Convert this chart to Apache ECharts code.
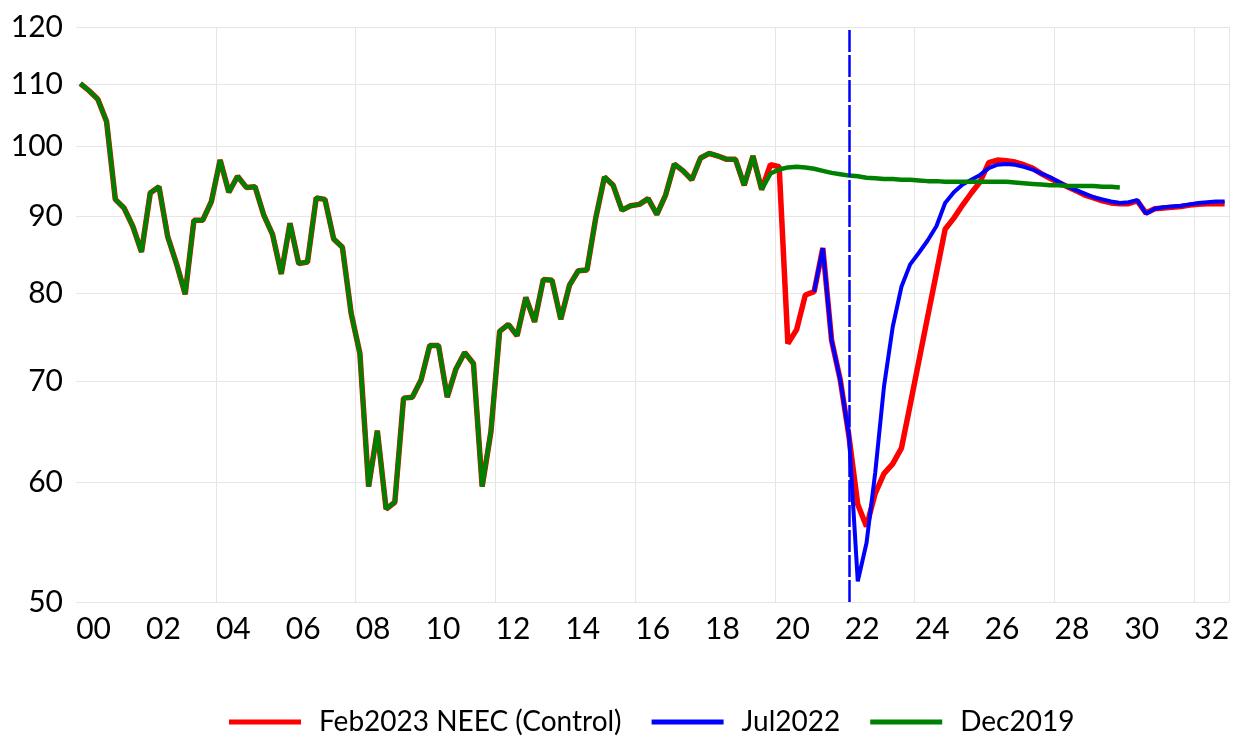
<!DOCTYPE html>
<html>
<head>
<meta charset="utf-8">
<title>NEEC scenarios</title>
<script src="https://cdn.jsdelivr.net/npm/echarts@6.0.0/dist/echarts.min.js"></script>
<style>
  html, body { margin: 0; padding: 0; background: #fff; }
  #chart { width: 1238px; height: 740px; }
</style>
</head>
<body>
<div id="chart"></div>
<script>
// quarterly, 2000Q1 .. 2032Q4
const quarters = [];
for (let y = 2000; y <= 2032; y++) {
  for (let q = 1; q <= 4; q++) quarters.push(String(y).slice(2) + 'Q' + q);
}
const yearLabels = ['00', '02', '04', '06', '08', '10', '12', '14', '16', '18', '20', '22', '24', '26', '28', '30', '32'];
const yTicks = [50, 60, 70, 80, 90, 100, 110, 120];

// common history 2000Q1 - 2019Q3
const history = [
  110.1, 108.9, 107.5, 103.9, 92.3, 91.1, 88.6, 85.2, 93.2, 94.1,
  87.2, 83.7, 79.9, 89.4, 89.4, 92.0, 98.0, 93.3, 95.6, 94.0,
  94.1, 90.1, 87.5, 82.4, 89.0, 83.7, 83.9, 92.5, 92.3, 86.9,
  85.8, 77.6, 73.0, 59.6, 64.9, 57.6, 58.2, 68.2, 68.3, 70.1,
  73.9, 73.9, 68.3, 71.3, 73.1, 71.9, 59.6, 64.8, 75.5, 76.3,
  75.0, 79.5, 76.6, 81.7, 81.6, 76.9, 81.0, 82.8, 82.9, 89.7,
  95.5, 94.3, 90.8, 91.4, 91.6, 92.4, 90.2, 92.9, 97.4, 96.4,
  95.1, 98.3, 99.0, 98.6, 98.1, 98.1, 94.3, 98.6, 93.7
];
// 2019Q4 - 2032Q4
const feb2023 = [
  97.3, 97.0, 74.1, 75.7, 79.8, 80.2, 85.7, 74.5, 70.1, 64.3,
  58.0, 56.1, 59.0, 60.8, 61.7, 63.2, 67.5, 72.2, 77.2, 82.5,
  88.2, 89.7, 91.5, 93.2, 94.8, 97.6, 98.0, 97.9, 97.7, 97.3,
  96.8, 96.0, 95.3, 94.7, 94.1, 93.5, 92.9, 92.5, 92.1, 91.8,
  91.7, 91.7, 92.1, 90.4, 91.0, 91.1, 91.2, 91.3, 91.5, 91.6,
  91.7, 91.7, 91.7
];
// 2021Q1 - 2032Q4
const jul2022 = [
  80.2, 85.7, 74.5, 70.1, 64.3, 51.6, 54.7, 60.9, 69.4, 76.0,
  80.8, 83.6, 85.1, 86.7, 88.6, 91.8, 93.3, 94.4, 95.1, 95.8,
  96.8, 97.3, 97.4, 97.3, 97.0, 96.6, 96.0, 95.5, 94.8, 94.1,
  93.6, 93.1, 92.6, 92.3, 92.0, 91.8, 91.9, 92.2, 90.3, 91.0,
  91.2, 91.3, 91.4, 91.6, 91.8, 91.9, 92.0, 92.0
];
// 2019Q4 - 2029Q4
const dec2019 = [
  96.0, 96.6, 96.9, 97.0, 96.9, 96.7, 96.4, 96.1, 95.9, 95.7,
  95.6, 95.4, 95.3, 95.2, 95.2, 95.1, 95.1, 95.0, 94.9, 94.9,
  94.8, 94.8, 94.8, 94.8, 94.8, 94.8, 94.8, 94.8, 94.7, 94.6,
  94.5, 94.4, 94.3, 94.3, 94.2, 94.2, 94.2, 94.2, 94.1, 94.1,
  94.0
];
const cutoff = '22Q1';

const redData = history.concat(feb2023);
const blueData = new Array(quarters.length - jul2022.length).fill(null).concat(jul2022);
const greenData = history.concat(dec2019);

const font = 'Lato, "Open Sans", sans-serif';
let myChart = echarts.init(document.getElementById('chart'));
myChart.setOption({
  animation: false,
  grid: { left: 76, right: 9, top: 27, bottom: 138, containLabel: false, outerBoundsMode: 'none' },
  legend: {
    left: 224,
    top: 703,
    icon: 'rect',
    itemWidth: 72,
    itemHeight: 5,
    itemGap: 30,
    textStyle: { fontFamily: font, fontSize: 28, color: '#000', padding: [0, 0, 0, 13] },
    data: ['Feb2023 NEEC (Control)', 'Jul2022', 'Dec2019']
  },
  xAxis: {
    type: 'category',
    data: quarters,
    boundaryGap: true,
    axisLine: { show: false },
    axisTick: { show: false },
    axisLabel: {
      interval: (i) => i % 8 === 1,
      formatter: (v, i) => yearLabels[(i - 1) / 8],
      fontFamily: font, fontSize: 30, color: '#000',
      margin: 12,
      padding: [0, 0, 0, 9]
    },
    splitLine: {
      show: true,
      interval: (i) => i > 0 && i % 16 === 0,
      lineStyle: { color: '#e6e6e6', width: 1 }
    }
  },
  yAxis: {
    type: 'log',
    logBase: 10,
    min: 50,
    max: 120,
    axisLine: { show: false },
    axisTick: { show: false, customValues: yTicks },
    axisLabel: {
      customValues: yTicks,
      formatter: (v) => String(Math.round(v)),
      fontFamily: font, fontSize: 30, color: '#000',
      margin: 13,
      padding: [0, 0, 8, 0]
    },
    splitLine: { show: true, lineStyle: { color: '#e6e6e6', width: 1 } }
  },
  series: [
    {
      name: 'Feb2023 NEEC (Control)',
      type: 'line',
      data: redData,
      symbol: 'none',
      color: '#ff0000',
      lineStyle: { color: '#ff0000', width: 5.5 }
    },
    {
      name: 'Jul2022',
      type: 'line',
      data: blueData,
      symbol: 'none',
      color: '#0000ff',
      lineStyle: { color: '#0000ff', width: 4 },
      markLine: {
        silent: true,
        symbol: 'none',
        label: { show: false },
        lineStyle: { color: '#0000ff', width: 2.5, type: [22, 3] },
        data: [{ xAxis: cutoff }]
      }
    },
    {
      name: 'Dec2019',
      type: 'line',
      data: greenData,
      symbol: 'none',
      color: '#008000',
      lineStyle: { color: '#008000', width: 4.5 }
    }
  ]
});
</script>
</body>
</html>
